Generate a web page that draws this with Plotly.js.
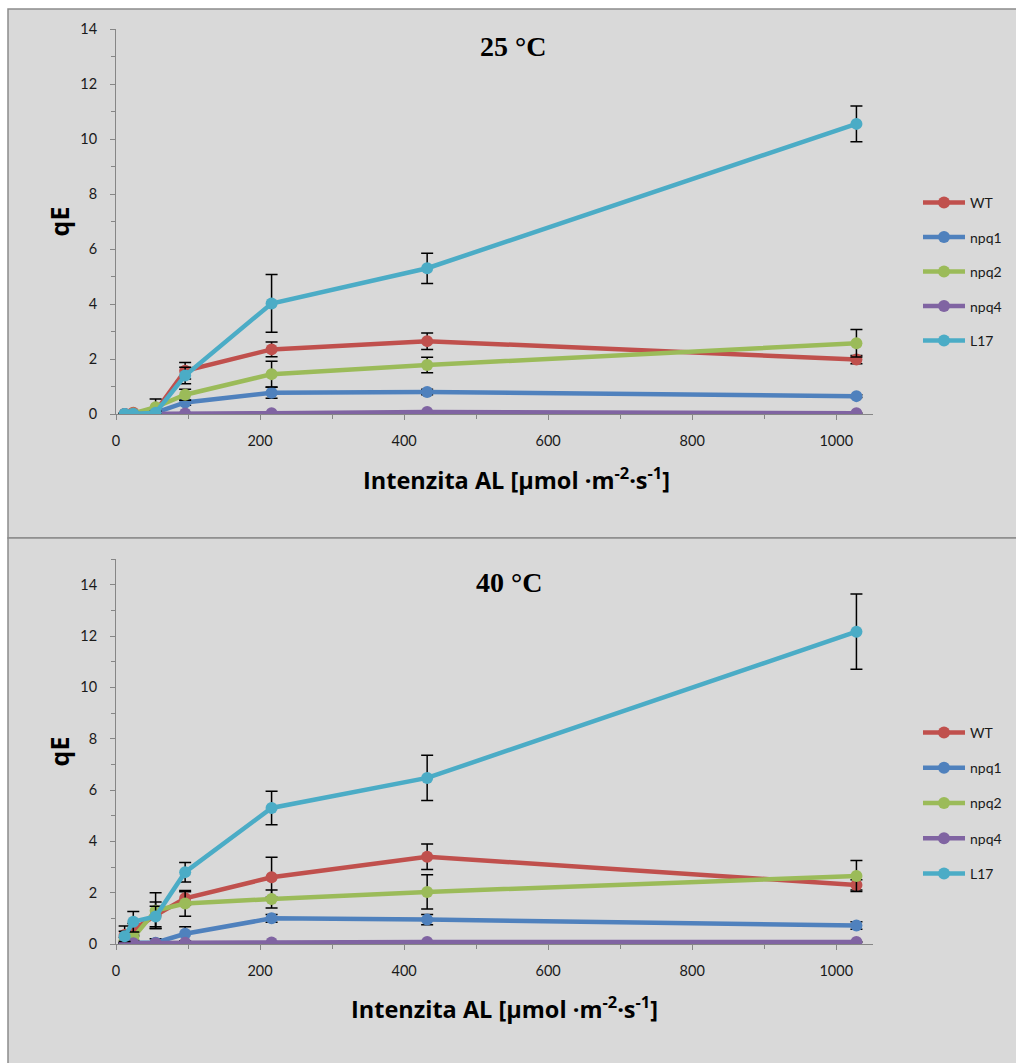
<!DOCTYPE html>
<html>
<head>
<meta charset="utf-8">
<script src="https://cdn.plot.ly/plotly-3.0.1.min.js"></script>
<style>html,body{margin:0;padding:0;background:#fff;}#chart{width:1016px;height:1063px;}</style>
</head>
<body>
<div id="chart"></div>
<script>
// Light intensity (µmol m-2 s-1)
const intensity = [12, 24, 55, 96, 216, 432, 1028];
const seriesNames = ["WT", "npq1", "npq2", "npq4", "L17"];
const seriesColors = ["#C0504D", "#4F81BD", "#9BBB59", "#8064A2", "#4BACC6"];

// 25 °C
const t25_WT   = [0.00, 0.05, 0.10, 1.57, 2.35, 2.65, 1.98];
const t25_npq1 = [0.00, 0.00, 0.05, 0.42, 0.77, 0.80, 0.65];
const t25_npq2 = [0.00, 0.02, 0.25, 0.70, 1.45, 1.78, 2.57];
const t25_npq4 = [0.00, 0.00, 0.02, 0.02, 0.03, 0.07, 0.03];
const t25_L17  = [0.00, 0.00, 0.05, 1.40, 4.02, 5.30, 10.55];
const t25_WT_err   = [0.02, 0.03, 0.10, 0.30, 0.27, 0.30, 0.15];
const t25_npq1_err = [0.02, 0.02, 0.05, 0.10, 0.20, 0.10, 0.05];
const t25_npq2_err = [0.02, 0.02, 0.30, 0.20, 0.47, 0.28, 0.50];
const t25_npq4_err = [0.01, 0.01, 0.01, 0.01, 0.01, 0.02, 0.01];
const t25_L17_err  = [0.02, 0.02, 0.05, 0.30, 1.05, 0.55, 0.65];

// 40 °C
const t40_WT   = [0.35, 0.55, 1.12, 1.78, 2.60, 3.40, 2.30];
const t40_npq1 = [0.03, 0.05, 0.05, 0.40, 1.00, 0.95, 0.72];
const t40_npq2 = [0.15, 0.25, 1.30, 1.58, 1.75, 2.03, 2.65];
const t40_npq4 = [0.02, 0.03, 0.03, 0.05, 0.06, 0.08, 0.08];
const t40_L17  = [0.30, 0.87, 1.07, 2.80, 5.30, 6.47, 12.17];
const t40_WT_err   = [0.35, 0.25, 0.52, 0.26, 0.78, 0.50, 0.20];
const t40_npq1_err = [0.02, 0.02, 0.15, 0.27, 0.15, 0.20, 0.15];
const t40_npq2_err = [0.10, 0.10, 0.70, 0.50, 0.35, 0.67, 0.60];
const t40_npq4_err = [0.01, 0.01, 0.01, 0.01, 0.01, 0.01, 0.01];
const t40_L17_err  = [0.20, 0.40, 0.40, 0.38, 0.65, 0.88, 1.47];

const xTickVals = [0, 200, 400, 600, 800, 1000];
const yTickVals = [0, 2, 4, 6, 8, 10, 12, 14];

const vals25 = [t25_WT, t25_npq1, t25_npq2, t25_npq4, t25_L17];
const errs25 = [t25_WT_err, t25_npq1_err, t25_npq2_err, t25_npq4_err, t25_L17_err];
const vals40 = [t40_WT, t40_npq1, t40_npq2, t40_npq4, t40_L17];
const errs40 = [t40_WT_err, t40_npq1_err, t40_npq2_err, t40_npq4_err, t40_L17_err];

const W = 1016, H = 1063;
const px = v => v / W;
const py = v => 1 - v / H;

const traces = [];
function addSet(vals, errs, xa, ya, leg, tag) {
  seriesNames.forEach((n, i) => {
    traces.push({
      type: 'scatter', mode: 'lines+markers', name: n,
      x: intensity, y: vals[i], xaxis: xa, yaxis: ya,
      legend: leg, legendgroup: tag + n,
      line: {color: seriesColors[i], width: 4.5},
      marker: {color: seriesColors[i], size: 12},
      error_y: {type: 'data', array: errs[i], visible: true, color: '#000', thickness: 1.5, width: 6}
    });
  });
}
addSet(vals25, errs25, 'x', 'y', 'legend', 'a');
addSet(vals40, errs40, 'x2', 'y2', 'legend2', 'b');

const tickFont = {family: 'Lato, "Liberation Sans", sans-serif', size: 14.5, color: '#1a1a1a'};
const axTitleFont = {family: '"Open Sans", Lato, sans-serif', size: 23.5, color: '#000', weight: 'bold'};
const qeFont = {family: '"Open Sans", Lato, sans-serif', size: 25, color: '#000', weight: 'bold'};
function xAxis(anchor) {
  return {
    domain: [px(116), px(873)], range: [0, 1051], anchor: anchor,
    tickvals: xTickVals, ticks: 'outside', ticklen: 5, tickwidth: 1, tickcolor: '#868686',
    showline: true, linecolor: '#868686', linewidth: 1, showgrid: false, zeroline: false,
    tickfont: tickFont, ticklabelstandoff: 9,
    minor: {dtick: 100, tick0: 0, ticks: 'outside', ticklen: 4, tickcolor: '#868686', showgrid: false}
  };
}
function yAxis(anchor, d0, d1, rmax) {
  return {
    domain: [py(d1), py(d0)], range: [0, rmax], anchor: anchor,
    tickvals: yTickVals, ticks: 'outside', ticklen: 5, tickwidth: 1, tickcolor: '#868686',
    showline: true, linecolor: '#868686', linewidth: 1, showgrid: false, zeroline: false,
    tickfont: tickFont, ticklabelstandoff: 10,
    minor: {dtick: 1, tick0: 0, ticks: 'outside', ticklen: 4, tickcolor: '#868686', showgrid: false},
    title: {text: 'qE', font: qeFont, standoff: 3}
  };
}

const xTitle = 'Intenzita AL [µmol ·m<sup>-2</sup>·s<sup>-1</sup>]';
const headFont = {family: '"Liberation Serif", "Times New Roman", serif', size: 28, color: '#000', weight: 'bold'};
const legFont = {family: 'Lato, "Liberation Sans", sans-serif', size: 14, color: '#1a1a1a'};

const layout = {
  width: W, height: H,
  margin: {l: 0, r: 0, t: 0, b: 0},
  paper_bgcolor: '#ffffff', plot_bgcolor: 'rgba(0,0,0,0)',
  showlegend: true,
  xaxis: xAxis('y'),
  yaxis: yAxis('x', 29, 414, 14),
  xaxis2: xAxis('y2'),
  yaxis2: yAxis('x2', 559, 944, 15),
  legend: {x: px(918), y: py(187), xanchor: 'left', yanchor: 'top', bgcolor: 'rgba(0,0,0,0)',
           font: legFont, traceorder: 'grouped', tracegroupgap: 13.3, itemwidth: 42},
  legend2: {x: px(918), y: py(717), xanchor: 'left', yanchor: 'top', bgcolor: 'rgba(0,0,0,0)',
           font: legFont, traceorder: 'grouped', tracegroupgap: 14, itemwidth: 42},
  shapes: [
    {type: 'rect', xref: 'paper', yref: 'paper', x0: px(8), x1: 1.02, y0: py(538), y1: py(9),
     fillcolor: '#d9d9d9', line: {color: '#8c8c8c', width: 1.5}, layer: 'below'},
    {type: 'rect', xref: 'paper', yref: 'paper', x0: px(8), x1: 1.02, y0: -0.02, y1: py(538),
     fillcolor: '#d9d9d9', line: {color: '#8c8c8c', width: 1.5}, layer: 'below'}
  ],
  annotations: [
    {text: '25 °C', xref: 'paper', yref: 'paper', x: px(513), y: py(47), xanchor: 'center', yanchor: 'middle', showarrow: false, font: headFont},
    {text: '40 °C', xref: 'paper', yref: 'paper', x: px(509), y: py(582), xanchor: 'center', yanchor: 'middle', showarrow: false, font: headFont},
    {text: xTitle, xref: 'paper', yref: 'paper', x: px(516), y: py(478), xanchor: 'center', yanchor: 'middle', showarrow: false, font: axTitleFont},
    {text: xTitle, xref: 'paper', yref: 'paper', x: px(504), y: py(1007), xanchor: 'center', yanchor: 'middle', showarrow: false, font: axTitleFont}
  ]
};

Plotly.newPlot('chart', traces, layout, {displayModeBar: false, staticPlot: true});
</script>
</body>
</html>
